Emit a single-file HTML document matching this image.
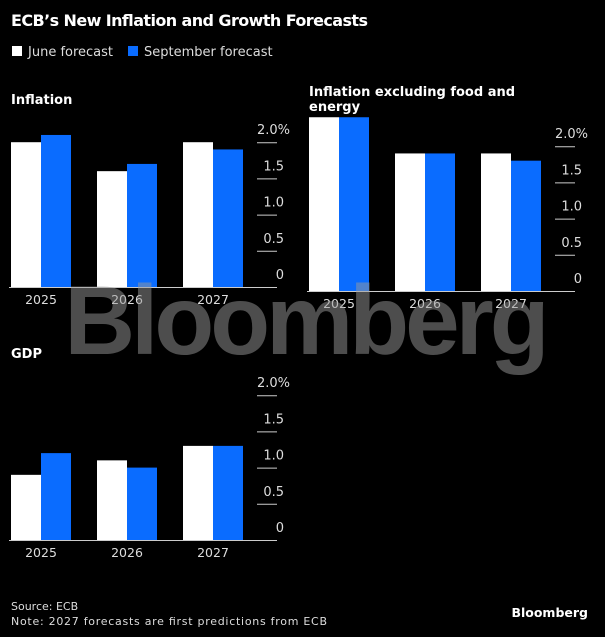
<!DOCTYPE html>
<html><head><meta charset="utf-8"><style>
html,body{margin:0;padding:0;background:#000;width:605px;height:637px;overflow:hidden}
svg{display:block;font-family:"DejaVu Sans","Liberation Sans",sans-serif}
</style></head><body>
<svg id="chart" width="605" height="637" viewBox="0 0 605 637">
<text x="11" y="26" fill="#fff" font-size="16" font-weight="bold" textLength="357">ECB’s New Inflation and Growth Forecasts</text>
<g>
<rect x="12" y="46" width="10" height="10" fill="#fff"/>
<text x="28" y="56" fill="#ddd" font-size="13">June forecast</text>
<rect x="128" y="46" width="10" height="10" fill="#0a6cff"/>
<text x="144" y="56" fill="#ddd" font-size="13">September forecast</text>
</g>
<text x="11" y="104" fill="#fff" font-size="13" font-weight="bold">Inflation</text>
<text x="309" y="96" fill="#fff" font-size="13" font-weight="bold">Inflation excluding food and</text>
<text x="309" y="111" fill="#fff" font-size="13" font-weight="bold">energy</text>
<text x="11" y="358" fill="#fff" font-size="13" font-weight="bold">GDP</text>
<g id="panels"></g>
<text x="305" y="354" fill="#999" fill-opacity="0.5" font-size="98" font-weight="bold" text-anchor="middle" font-family="Liberation Sans, sans-serif" letter-spacing="-4">Bloomberg</text>
<text x="11" y="610" fill="#ddd" font-size="11">Source: ECB</text>
<text x="11" y="625" fill="#ddd" font-size="11" textLength="316">Note: 2027 forecasts are first predictions from ECB</text>
<text x="588" y="617" fill="#fff" font-size="12.5" font-weight="bold" text-anchor="end">Bloomberg</text>
</svg>
<script>
const categories = ["2025","2026","2027"];
const tickValues = [0,0.5,1.0,1.5,2.0];
const tickLabels = ["0","0.5","1.0","1.5","2.0%"];
const inflationJune = [2.0,1.6,2.0];
const inflationSept = [2.1,1.7,1.9];
const coreJune = [2.4,1.9,1.9];
const coreSept = [2.4,1.9,1.8];
const gdpJune = [0.9,1.1,1.3];
const gdpSept = [1.2,1.0,1.3];

const NS="http://www.w3.org/2000/svg";
const root=document.getElementById('panels');
function mk(tag,attrs){const e=document.createElementNS(NS,tag);for(const k in attrs)e.setAttribute(k,attrs[k]);return e;}
function panel(name,x0,base,june,sept){
  const g=mk('g',{});
  
  
  root.appendChild(g);
  const perUnit=72.4;
  const y=v=>base-v*perUnit;
  const bx=i=>x0+i*86;
  categories.forEach((c,i)=>{
    const r1=mk('rect',{x:bx(i),y:y(june[i]),width:30,height:june[i]*perUnit,fill:'#fff'});
    
    
    g.appendChild(r1);
    const r2=mk('rect',{x:bx(i)+30,y:y(sept[i]),width:30,height:sept[i]*perUnit,fill:'#0a6cff'});
    
    
    g.appendChild(r2);
    const t=mk('text',{x:bx(i)+30,y:base+17,fill:'#ddd','font-size':12.5,'text-anchor':'middle'});
    t.textContent=c;
    
    
    g.appendChild(t);
  });
  const ax=mk('line',{x1:x0-2,x2:x0+266,y1:base+0.5,y2:base+0.5,stroke:'#ccc','stroke-width':1});
  
  
  g.appendChild(ax);
  tickValues.forEach((v,i)=>{
    if(v>0){
      const l=mk('line',{x1:x0+246,x2:x0+266,y1:y(v)+0.5,y2:y(v)+0.5,stroke:'#ccc','stroke-width':1});
      
      
      g.appendChild(l);
    }
    const t=mk('text',{x:x0+273,y:y(v)-8,fill:'#ddd','font-size':13,'text-anchor':'end'});
    if(i===tickValues.length-1){t.setAttribute('text-anchor','start');t.setAttribute('x',x0+246);}
    t.textContent=tickLabels[i];
    
    
    g.appendChild(t);
  });
}
panel('inflation',11,287,inflationJune,inflationSept);
panel('core-inflation',309,291,coreJune,coreSept);
panel('gdp',11,540,gdpJune,gdpSept);
</script>
</body></html>
